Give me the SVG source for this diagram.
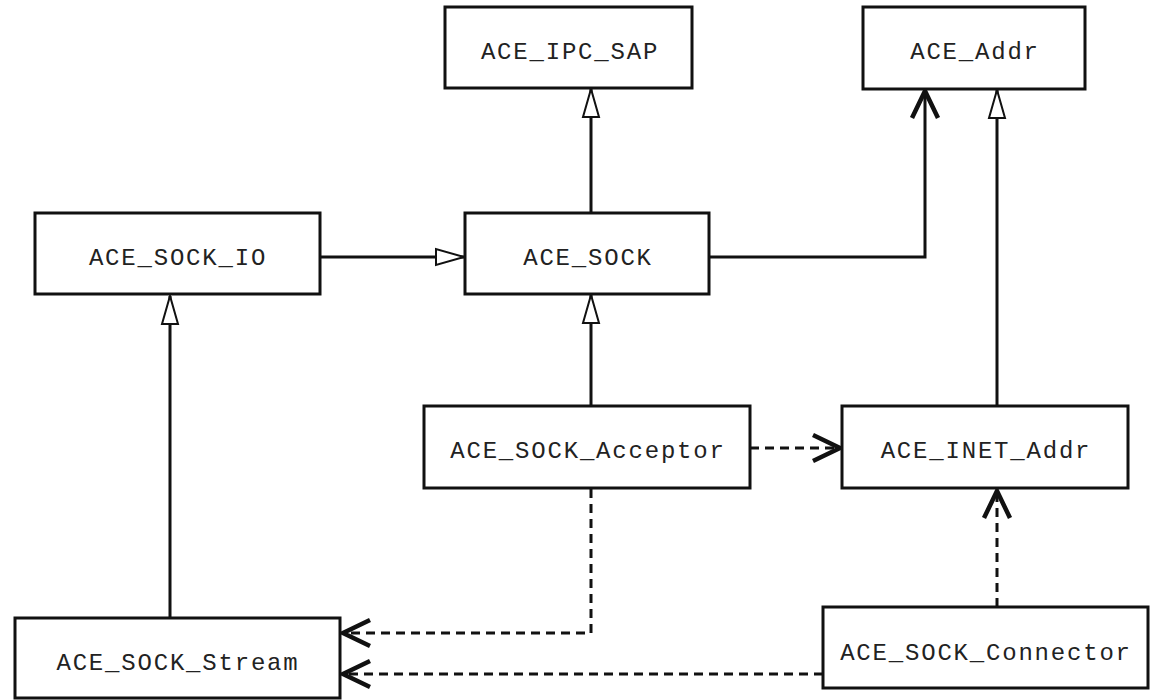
<svg xmlns="http://www.w3.org/2000/svg" width="1153" height="700" viewBox="0 0 1153 700">
<style>
.box{fill:#fff;stroke:#111;stroke-width:3}
.lbl{font-family:"Liberation Mono","Courier New",monospace;font-size:24px;letter-spacing:1.8px;fill:#222;text-anchor:middle}
.solid{fill:none;stroke:#111;stroke-width:3}
.dash{fill:none;stroke:#111;stroke-width:3;stroke-dasharray:9 6}
</style>
<defs>
<marker id="tri" markerUnits="userSpaceOnUse" viewBox="-32 -16 34 32" markerWidth="34" markerHeight="32" refX="0" refY="0" orient="auto" overflow="visible">
<path d="M0,0 L-28,-8 L-28,8 Z" fill="#fff" stroke="#111" stroke-width="2"/>
</marker>
<marker id="open" markerUnits="userSpaceOnUse" viewBox="-32 -18 34 36" markerWidth="34" markerHeight="36" refX="0" refY="0" orient="auto" overflow="visible">
<path d="M-27,-13 L0,0 L-27,13" fill="none" stroke="#111" stroke-width="4.5"/>
</marker>
</defs>
<rect width="1153" height="700" fill="#fff"/>
<g id="connectors">
<path class="solid" d="M591,213 V89" marker-end="url(#tri)"/>
<path class="solid" d="M591,406 V295" marker-end="url(#tri)"/>
<path class="solid" d="M320,257 H464" marker-end="url(#tri)"/>
<path class="solid" d="M170,618 V296" marker-end="url(#tri)"/>
<path class="solid" d="M997,406 V90" marker-end="url(#tri)"/>
<path class="solid" d="M709,257 H925 V91" marker-end="url(#open)"/>
<path class="dash" d="M750,448 H840" marker-end="url(#open)"/>
<path class="dash" d="M997,607 V491" marker-end="url(#open)"/>
<path class="dash" d="M591,489 V633 H343" marker-end="url(#open)"/>
<path class="dash" d="M823,674 H343" marker-end="url(#open)"/>
</g>
<g id="ace_ipc_sap"><rect class="box" x="445" y="7" width="247" height="81"/><text class="lbl" x="570" y="59">ACE_IPC_SAP</text></g>
<g id="ace_addr"><rect class="box" x="863" y="7" width="222" height="82"/><text class="lbl" x="975" y="59">ACE_Addr</text></g>
<g id="ace_sock_io"><rect class="box" x="35" y="213" width="285" height="81"/><text class="lbl" x="178" y="265">ACE_SOCK_IO</text></g>
<g id="ace_sock"><rect class="box" x="465" y="213" width="244" height="81"/><text class="lbl" x="588" y="265">ACE_SOCK</text></g>
<g id="ace_sock_acceptor"><rect class="box" x="424" y="406" width="326" height="82"/><text class="lbl" x="588" y="458">ACE_SOCK_Acceptor</text></g>
<g id="ace_inet_addr"><rect class="box" x="842" y="406" width="286" height="82"/><text class="lbl" x="986" y="458">ACE_INET_Addr</text></g>
<g id="ace_sock_stream"><rect class="box" x="15" y="618" width="325" height="80"/><text class="lbl" x="178" y="670">ACE_SOCK_Stream</text></g>
<g id="ace_sock_connector"><rect class="box" x="823" y="607" width="325" height="81"/><text class="lbl" x="986" y="660">ACE_SOCK_Connector</text></g>
</svg>
